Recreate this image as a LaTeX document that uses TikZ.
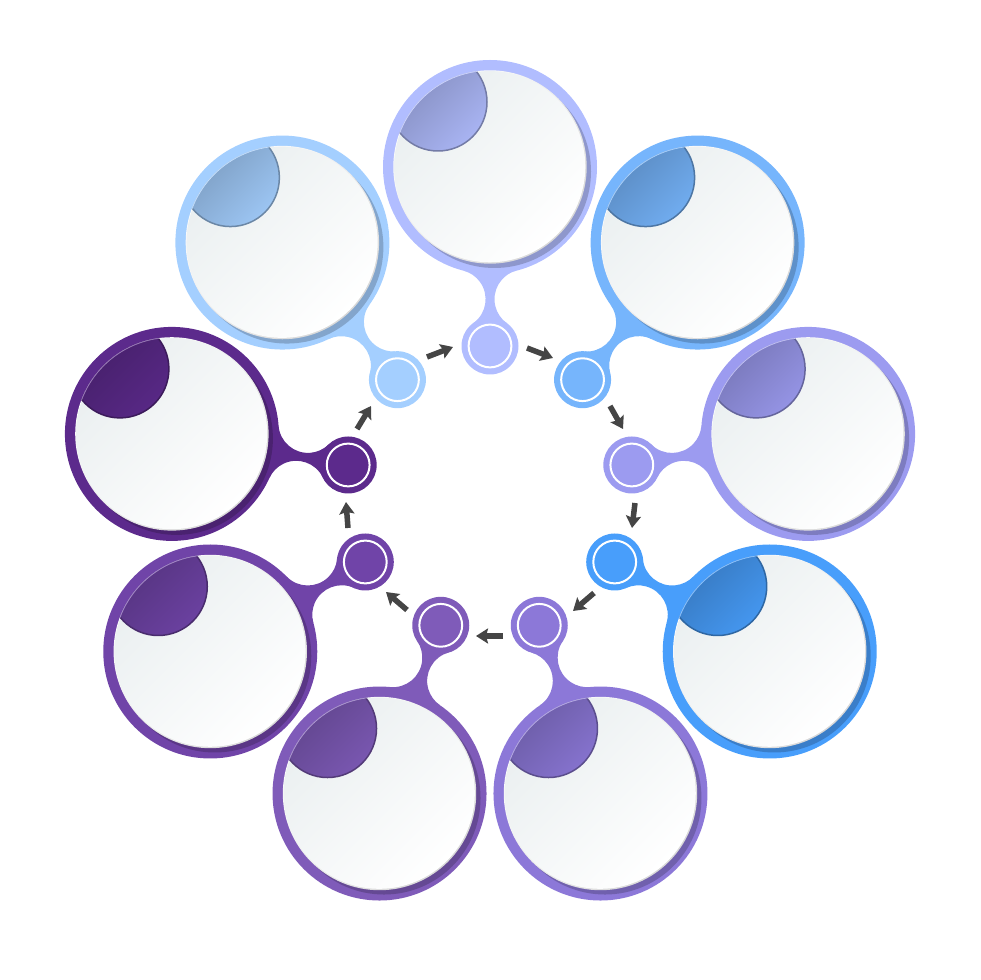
\documentclass[tikz,border=0pt]{standalone}
\usetikzlibrary{arrows.meta}
\definecolor{ca}{HTML}{B1BDFF}
\definecolor{cb}{HTML}{76B5FC}
\definecolor{cc}{HTML}{9C9BF0}
\definecolor{cd}{HTML}{489EFB}
\definecolor{ce}{HTML}{8C78D8}
\definecolor{cf}{HTML}{7F5BB9}
\definecolor{cg}{HTML}{7044A8}
\definecolor{ch}{HTML}{5C2A8C}
\definecolor{ci}{HTML}{A4CFFF}
\definecolor{arrowgrey}{HTML}{454545}
\definecolor{discedge}{HTML}{D8D8D8}
\definecolor{discfrom}{HTML}{EAEFF0}
\tikzset{
  bigdisc/.style={circle,inner sep=0pt,minimum size=214pt,fill=#1},
  smalldisc/.style={circle,inner sep=0pt,minimum size=57pt,fill=#1},
  flow/.style={draw=arrowgrey,line width=5.5pt,-{Stealth[inset=2pt,length=12pt,width=15pt]}}
}
\begin{document}
\begin{tikzpicture}[x=1pt,y=1pt]
\useasboundingbox (0,0) rectangle (980,980);
\foreach \k/\c [evaluate=\k as \a using 90-40*\k] in {0/ca,1/cb,2/cc,3/cd,4/ce,5/cf,6/cg,7/ch,8/ci}{
  \node[bigdisc=\c] (b\k) at ([shift={(490,490)}]\a:323) {};
  \node[smalldisc=\c] (s\k) at ([shift={(490,490)}]\a:144) {};
  % neck joining the big disc to its small disc: arcs tangent to both
  \begin{scope}[shift={(b\k)},rotate=\a+180]
    \fill[\c] (103.6,26.65) arc[start angle=194.4,end angle=324,radius=29.5]
      -- (156.1,-16.6) arc[start angle=36,end angle=165.6,radius=29.5] -- cycle;
  \end{scope}
  % ring on the small disc
  \draw[white,line width=2pt] (s\k) circle (21.4);
  % crescent shadow on the ring
  \fill[\c!80!black] ([shift={(4.5,-4.5)}]b\k) circle (96.5);
  % rim and face of the big disc
  \shade[left color=white,right color=discedge,shading angle=45] (b\k) circle (96.7);
  \shade[left color=discfrom,middle color=white,right color=white,shading angle=45] ([shift={(-0.3,0.3)}]b\k) circle (95.6);
  % tab in the upper left
  \begin{scope}
    \clip (b\k) circle (96.7);
    \shade[left color=\c!72!black,right color=\c!95!black,shading angle=45]
      ([shift={(-52,65)}]b\k) circle (49);
    \draw[\c!65!black,line width=1.5pt] ([shift={(-52,65)}]b\k) circle (49);
    \begin{scope}
      \clip ([shift={(-52,65)}]b\k) circle (49.7);
      \draw[\c!60!white,line width=1.2pt] (b\k) circle (96.7);
    \end{scope}
  \end{scope}
}
\foreach \n/\tx/\ty/\hx/\hy in {
  a/427/623/453/633, b/527/632/553/622, c/610/574/623/551,
  d/635/477/632/452, e/594/387/573/369, f/503/344/476/344,
  g/407/370/386/388, h/348/452/346/478, i/357/551/371/574}{
  \coordinate (t\n) at (\tx,\ty);
  \coordinate (h\n) at (\hx,\hy);
  \draw[flow] (t\n) -- (h\n);
}
\end{tikzpicture}
\end{document}
